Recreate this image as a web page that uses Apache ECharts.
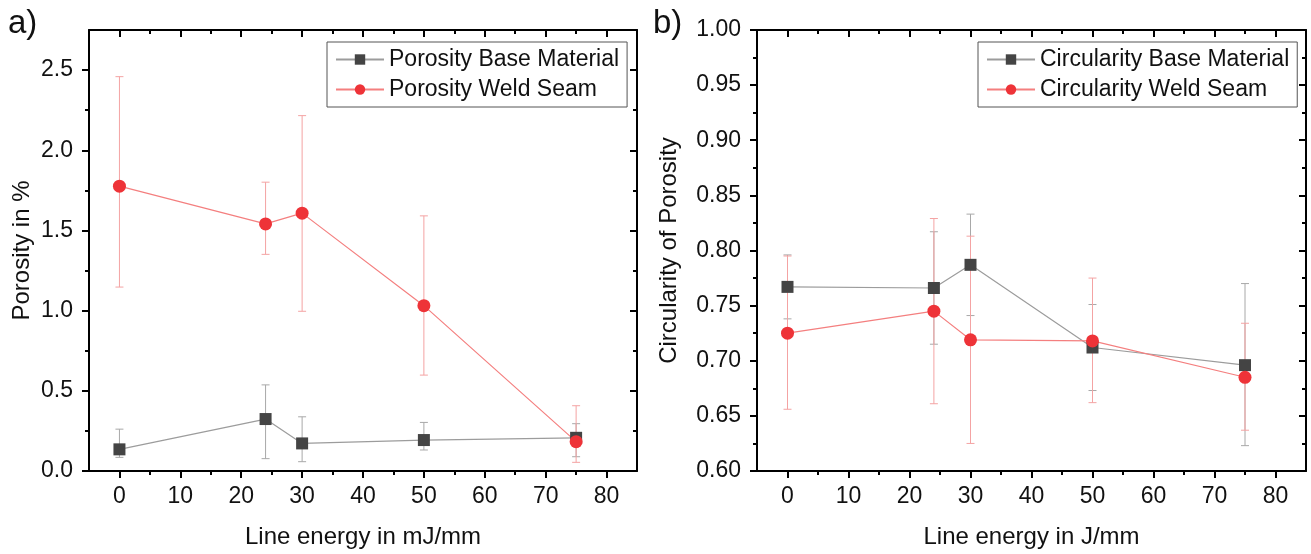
<!DOCTYPE html>
<html>
<head>
<meta charset="utf-8">
<script src="https://cdn.jsdelivr.net/npm/echarts@6/dist/echarts.min.js"></script>
<style>
html,body{margin:0;padding:0;background:#fff;}
#chart{width:1311px;height:554px;}
</style>
</head>
<body>
<div id="chart"></div>
<script>
// ---- data ----
const energy = [0, 24, 30, 50, 75];

const porosityBase = [0.135, 0.324, 0.172, 0.193, 0.207];
const porosityBaseLow = [0.085, 0.077, 0.058, 0.131, 0.089];
const porosityBaseHigh = [0.261, 0.537, 0.338, 0.303, 0.295];
const porosityWeld = [1.776, 1.541, 1.608, 1.031, 0.183];
const porosityWeldLow = [1.147, 1.351, 0.996, 0.598, 0.054];
const porosityWeldHigh = [2.459, 1.801, 2.216, 1.591, 0.407];

const circBase = [0.767, 0.766, 0.787, 0.712, 0.696];
const circBaseLow = [0.738, 0.715, 0.741, 0.673, 0.623];
const circBaseHigh = [0.796, 0.817, 0.833, 0.751, 0.770];
const circWeld = [0.725, 0.745, 0.719, 0.718, 0.685];
const circWeldLow = [0.656, 0.661, 0.625, 0.662, 0.637];
const circWeldHigh = [0.795, 0.829, 0.813, 0.775, 0.734];

const xTicks = [0, 10, 20, 30, 40, 50, 60, 70, 80];
const xMinorTicks = [5, 15, 25, 35, 45, 55, 65, 75];
const poroTicks = [0, 0.5, 1.0, 1.5, 2.0, 2.5];
const poroMinorTicks = [0.25, 0.75, 1.25, 1.75, 2.25];
const circTicks = [0.60, 0.65, 0.70, 0.75, 0.80, 0.85, 0.90, 0.95, 1.00];
const circMinorTicks = [0.625, 0.675, 0.725, 0.775, 0.825, 0.875, 0.925, 0.975];

const names = {
  poroBase: 'Porosity Base Material',
  poroWeld: 'Porosity Weld Seam',
  circBase: 'Circularity Base Material',
  circWeld: 'Circularity Weld Seam'
};

// ---- styling ----
const FONT = 'Liberation Sans, Arial, sans-serif';
const RED = '#ee3338', RED_LINE = '#f47f7f', RED_ERR = '#f4a3a3';
const GRAY = '#444444', GRAY_LINE = '#9c9c9c', GRAY_ERR = '#a8a8a8';

const chart = echarts.init(document.getElementById('chart'), null, {renderer: 'canvas'});

function pairs(xs, ys) { return xs.map((x, i) => [x, ys[i]]); }
function errData(xs, lo, hi) { return xs.map((x, i) => [x, lo[i], hi[i]]); }

function errRender(color) {
  return function (params, api) {
    const x = api.value(0), lo = api.value(1), hi = api.value(2);
    const a = api.coord([x, hi]), b = api.coord([x, lo]);
    const w = 4;
    const style = {stroke: color, lineWidth: 1};
    return {
      type: 'group',
      children: [
        {type: 'line', shape: {x1: a[0], y1: a[1], x2: b[0], y2: b[1]}, style: style},
        {type: 'line', shape: {x1: a[0] - w, y1: a[1], x2: a[0] + w, y2: a[1]}, style: style},
        {type: 'line', shape: {x1: b[0] - w, y1: b[1], x2: b[0] + w, y2: b[1]}, style: style}
      ]
    };
  };
}

const grids = [
  {left: 89, top: 30, width: 548, height: 442},
  {left: 757, top: 30, width: 549, height: 442}
];

const xAxes = [], yAxes = [];
function addAxes(gi, xName, yMin, yMax, yMajor, yMinor, yFmt, yNameGap, yName) {
  const base = {gridIndex: gi, type: 'value', min: -5, max: 85, splitLine: {show: false}};
  const lineStyle = {color: '#000', width: 2};
  xAxes.push(Object.assign({}, base, {
    position: 'bottom',
    name: xName, nameLocation: 'middle', nameGap: 54,
    nameTextStyle: {fontFamily: FONT, fontSize: 24, color: '#111'},
    axisLine: {show: true, onZero: false, lineStyle: lineStyle},
    axisTick: {show: true, inside: false, length: 7, customValues: xTicks, lineStyle: {color: '#000', width: 2}},
    axisLabel: {show: true, margin: 14, customValues: xTicks, fontFamily: FONT, fontSize: 23, color: '#111'}
  }));
  xAxes.push(Object.assign({}, base, {
    position: 'bottom',
    axisLine: {show: false, onZero: false},
    axisTick: {show: true, inside: false, length: 4, customValues: xMinorTicks, lineStyle: {color: '#000', width: 2}},
    axisLabel: {show: false}
  }));
  xAxes.push(Object.assign({}, base, {
    position: 'top',
    axisLine: {show: true, onZero: false, lineStyle: lineStyle},
    axisTick: {show: true, inside: true, length: 7, customValues: xTicks, lineStyle: {color: '#000', width: 2}},
    axisLabel: {show: false}
  }));
  xAxes.push(Object.assign({}, base, {
    position: 'top',
    axisLine: {show: false, onZero: false},
    axisTick: {show: true, inside: true, length: 4, customValues: xMinorTicks, lineStyle: {color: '#000', width: 2}},
    axisLabel: {show: false}
  }));

  const ybase = {gridIndex: gi, type: 'value', min: yMin, max: yMax, splitLine: {show: false}};
  yAxes.push(Object.assign({}, ybase, {
    position: 'left',
    name: yName, nameLocation: 'middle', nameGap: yNameGap, nameRotate: 90,
    nameTextStyle: {fontFamily: FONT, fontSize: 24, color: '#111'},
    axisLine: {show: true, onZero: false, lineStyle: lineStyle},
    axisTick: {show: true, inside: false, length: 7, customValues: yMajor, lineStyle: {color: '#000', width: 2}},
    axisLabel: {show: true, margin: 16, customValues: yMajor, formatter: yFmt, fontFamily: FONT, fontSize: 23, color: '#111'}
  }));
  yAxes.push(Object.assign({}, ybase, {
    position: 'left',
    axisLine: {show: false, onZero: false},
    axisTick: {show: true, inside: false, length: 4, customValues: yMinor, lineStyle: {color: '#000', width: 2}},
    axisLabel: {show: false}
  }));
  yAxes.push(Object.assign({}, ybase, {
    position: 'right',
    axisLine: {show: true, onZero: false, lineStyle: lineStyle},
    axisTick: {show: true, inside: true, length: 7, customValues: yMajor, lineStyle: {color: '#000', width: 2}},
    axisLabel: {show: false}
  }));
  yAxes.push(Object.assign({}, ybase, {
    position: 'right',
    axisLine: {show: false, onZero: false},
    axisTick: {show: true, inside: true, length: 4, customValues: yMinor, lineStyle: {color: '#000', width: 2}},
    axisLabel: {show: false}
  }));
}

addAxes(0, 'Line energy in mJ/mm', 0, 2.75, poroTicks, poroMinorTicks, v => v.toFixed(1), 55, 'Porosity in %');
addAxes(1, 'Line energy in J/mm', 0.6, 1.0, circTicks, circMinorTicks, v => v.toFixed(2), 76, 'Circularity of Porosity');

function lineSeries(name, gi, xs, ys, symbol, size, mColor, lColor) {
  return {
    name: name, type: 'line', xAxisIndex: gi * 4, yAxisIndex: gi * 4,
    data: pairs(xs, ys), symbol: symbol, symbolSize: size,
    itemStyle: {color: mColor},
    lineStyle: {color: lColor, width: 1.2},
    z: 5, animation: false
  };
}
function errSeries(gi, xs, lo, hi, color) {
  return {
    type: 'custom', xAxisIndex: gi * 4, yAxisIndex: gi * 4,
    data: errData(xs, lo, hi), encode: {x: 0, y: [1, 2]},
    renderItem: errRender(color), z: 3, animation: false, silent: true
  };
}

const legendCommon = {
  orient: 'vertical', itemWidth: 48, itemHeight: 13, itemGap: 7,
  borderColor: '#555', borderWidth: 1, padding: [6, 8, 6, 8],
  textStyle: {fontFamily: FONT, fontSize: 23, color: '#111'}
};

const option = {
  backgroundColor: '#fff',
  animation: false,
  grid: grids,
  xAxis: xAxes,
  yAxis: yAxes,
  legend: [
    Object.assign({}, legendCommon, {left: 327, top: 42, data: [names.poroBase, names.poroWeld]}),
    Object.assign({}, legendCommon, {left: 978, top: 42, data: [names.circBase, names.circWeld]})
  ],
  graphic: [
    {type: 'text', left: 8, top: 7, style: {text: 'a)', fontFamily: FONT, fontSize: 33, fill: '#111'}},
    {type: 'text', left: 653, top: 7, style: {text: 'b)', fontFamily: FONT, fontSize: 33, fill: '#111'}}
  ],
  series: [
    errSeries(0, energy, porosityBaseLow, porosityBaseHigh, GRAY_ERR),
    errSeries(0, energy, porosityWeldLow, porosityWeldHigh, RED_ERR),
    lineSeries(names.poroBase, 0, energy, porosityBase, 'rect', 12, GRAY, GRAY_LINE),
    lineSeries(names.poroWeld, 0, energy, porosityWeld, 'circle', 13, RED, RED_LINE),
    errSeries(1, energy, circBaseLow, circBaseHigh, GRAY_ERR),
    errSeries(1, energy, circWeldLow, circWeldHigh, RED_ERR),
    lineSeries(names.circBase, 1, energy, circBase, 'rect', 12, GRAY, GRAY_LINE),
    lineSeries(names.circWeld, 1, energy, circWeld, 'circle', 13, RED, RED_LINE)
  ]
};
chart.setOption(option);
</script>
</body>
</html>
